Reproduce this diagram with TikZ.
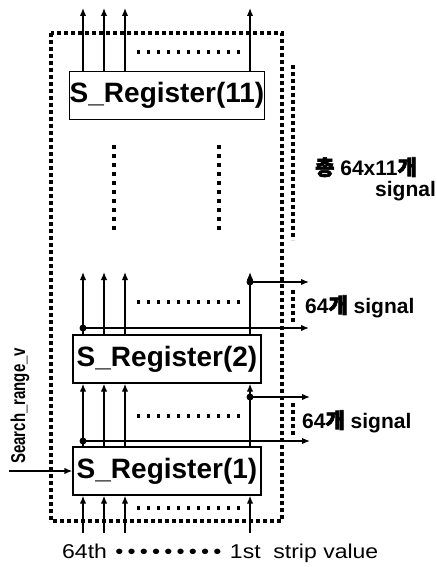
\documentclass[tikz,border=0pt]{standalone}
\usepackage{fontspec}
\setmainfont{Liberation Sans}
\newfontfamily\kor{Noto Sans CJK KR}[FakeBold=3]
\newfontfamily\wide{Liberation Sans}[FakeStretch=1.15]
\newfontfamily\narrow{Liberation Sans}[FakeStretch=0.75]
\usetikzlibrary{arrows.meta}
\newcommand{\rowbullets}{\foreach \k in {1,...,9}{\hspace{2.1pt}\textbullet\hspace{2.1pt}}}

\begin{document}
\begin{tikzpicture}[
    x=1pt, y=-1pt,
    >={Latex[length=8pt,width=6.5pt]},
    reg/.style={draw, line width=1.4pt, minimum width=188pt, minimum height=48pt, inner sep=0pt,
        font=\bfseries\fontsize{28}{28}\selectfont},
    wire/.style={line width=1.4pt},
    junc/.style={circle, fill, inner sep=0pt, minimum size=7pt},
    bigdots/.style={line width=3.6pt, dash pattern=on 3.6pt off 3.4pt},
    rowdots/.style={line width=3.4pt, dash pattern=on 3.4pt off 6.6pt},
    coldots/.style={line width=3.6pt, dash pattern=on 3.6pt off 5.4pt},
    lbl/.style={font=\bfseries\fontsize{21}{21}\selectfont, inner sep=0pt, anchor=base west}
]
\useasboundingbox (0,0) rectangle (436,567);

\node[reg] (r11) at (167,95.5) {S\_Register(11)};
\node[reg] (r2) at (167,359) {S\_Register(2)};
\node[reg] (r1) at (167,471) {S\_Register(1)};

\draw[bigdots] (51,33) rectangle (282,521);
\draw[bigdots] (293,65) -- (293,240);
\draw[bigdots] (293,290) -- (293,323);
\draw[bigdots] (293,403) -- (293,436);
\foreach \y in {52,302,416,508}
    \draw[rowdots] (137,\y) -- (240,\y);
\foreach \x in {114,219}
    \draw[coldots] (\x,145) -- (\x,232);

\foreach \i/\x in {a/83,b/104,c/125,d/250} {
    \coordinate (o\i) at (\x,8);
    \coordinate (p\i) at (\x,272);
    \coordinate (in\i) at (\x,533);
    \draw[wire,->] (r11.north -| o\i) -- (o\i);
    \draw[wire,->] (r2.north -| p\i) -- (p\i);
    \draw[wire,->] (r1.north -| p\i) -- (r2.south -| p\i);
    \draw[wire,->] (in\i) -- (r1.south -| in\i);
}

\node[junc] (j2l) at (83,328) {};
\node[junc] (j2r) at (250,282) {};
\node[junc] (j1l) at (83,441) {};
\node[junc] (j1r) at (250,397) {};
\coordinate (s2r) at (309,282);
\coordinate (s2l) at (309,328);
\coordinate (s1r) at (310,397);
\coordinate (s1l) at (310,441);
\draw[wire,->] (j2r.center) -- (s2r);
\draw[wire,->] (j2l.center) -- (s2l);
\draw[wire,->] (j1r.center) -- (s1r);
\draw[wire,->] (j1l.center) -- (s1l);

\coordinate (srv) at (9,471);
\draw[wire,->] (srv) -- (r1.west);
\node[font=\narrow\bfseries\fontsize{20}{20}\selectfont, rotate=90, anchor=base west, inner sep=0pt]
    (srl) at (25,464) {Search\_range\_v};

\node[lbl] (tot) at (315,175) {{\kor 총} 64x11{\kor 개}};
\node[lbl] (tots) at (375,196) {signal};
\node[lbl] (n2) at (305,313) {64{\kor 개} signal};
\node[lbl] (n1) at (302,428) {64{\kor 개} signal};

\node[font=\wide\fontsize{20}{20}\selectfont, anchor=base west, inner sep=0pt]
    (strip) at (62,558) {64th \rowbullets{} 1st\ \ strip value};
\end{tikzpicture}
\end{document}
